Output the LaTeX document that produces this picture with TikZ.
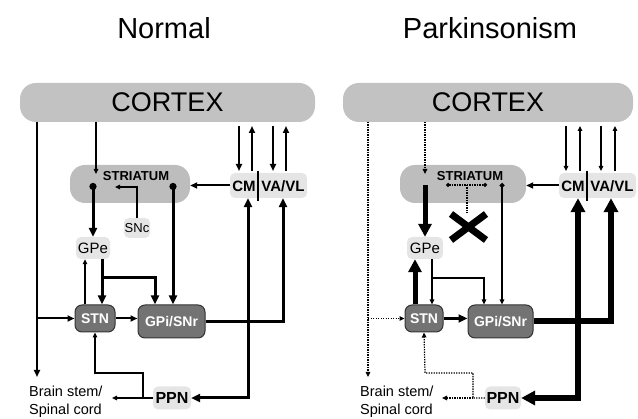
\documentclass[tikz,border=0pt]{standalone}
\usepackage{fontspec}
\setmainfont{Liberation Sans}
\usetikzlibrary{arrows.meta}
\begin{document}
\begin{tikzpicture}[x=1pt,y=-1pt,
  ttl/.style={font=\fontsize{29}{31}\selectfont},
  ctx/.style={fill=black!24, rounded corners=16pt, minimum width=295pt, minimum height=39pt, inner sep=0pt, font=\fontsize{27}{29}\selectfont},
  strbox/.style={fill=black!26, rounded corners=15pt, minimum width=120pt, minimum height=38pt, inner sep=0pt},
  strtxt/.style={font=\fontsize{13}{14}\bfseries\selectfont, inner sep=0pt},
  lightbox/.style={fill=black!10, rounded corners=5pt, inner sep=0pt},
  darkbox/.style={fill=black!55, draw=black!80, line width=1pt, rounded corners=7pt, inner sep=0pt, text=white, font=\fontsize{14}{15}\bfseries\selectfont},
  thtxt/.style={font=\fontsize{15}{16}\bfseries\selectfont, inner sep=0pt},
  bstxt/.style={font=\fontsize{14.5}{18}\selectfont, align=left, inner sep=0pt, anchor=west},
  w1/.style={line width=1.2pt},
  w2/.style={line width=2pt},
  w3/.style={line width=3pt},
  w5/.style={line width=5pt},
  w6/.style={line width=6pt},
  dots/.style={dash pattern=on 1.3pt off 1.2pt},
  t1/.style={-{Triangle[length=5pt,width=4.5pt]}},
  t2/.style={-{Triangle[length=7pt,width=6pt]}},
  t3/.style={-{Triangle[length=9pt,width=8pt]}},
  t5/.style={-{Triangle[length=13pt,width=13pt]}},
  t6/.style={-{Triangle[length=14pt,width=14pt]}},
  dt1/.style={{Circle[length=5pt]}-{Triangle[length=5pt,width=4.5pt]}},
  dt3/.style={{Circle[length=7pt]}-{Triangle[length=9pt,width=8pt]}}
]
\useasboundingbox (0,0) rectangle (638,419);

%%%%%%%%%%%%%%%% LEFT PANEL: Normal
\node[ttl] (Ltitle) at (164,28) {Normal};
\node[ctx] (Lctx) at (167.5,102.5) {CORTEX};
\node[strbox] (Lstr) at (130,184) {};
\node[strtxt] (Lstrt) at (136,176) {STRIATUM};
\node[lightbox, minimum width=77pt, minimum height=25pt] (Lth) at (268.5,185.5) {};
\node[thtxt] (Lcm) at (244,186) {CM};
\node[thtxt] (Lva) at (283,186) {VA/VL};
\coordinate (Ldv1) at (258,171); \coordinate (Ldv2) at (258,201);
\draw[w2] (Ldv1) -- (Ldv2);
\node[lightbox, minimum width=26pt, minimum height=20pt, font=\fontsize{13}{14}\selectfont] (Lsnc) at (137,228) {SNc};
\node[lightbox, minimum width=34pt, minimum height=22pt, font=\fontsize{15}{16}\selectfont] (Lgpe) at (93,248) {GPe};
\node[darkbox, minimum width=40pt, minimum height=27pt] (Lstn) at (95,318.5) {STN};
\node[darkbox, minimum width=67pt, minimum height=33pt] (Lgpi) at (171.5,321.5) {GPi/SNr};
\node[lightbox, minimum width=38pt, minimum height=23pt, font=\fontsize{16}{17}\bfseries\selectfont] (Lppn) at (172,398) {PPN};
\node[bstxt] (Lbs) at (29,402) {Brain stem/\\Spinal cord};

% cortex -> brain stem, branch to STN
\coordinate (La1) at (37,122); \coordinate (La2) at (37,377); \coordinate (La3) at (37,318.5);
\draw[w2,t2] (La1) -- (La2);
\draw[w2,t2] (La3) -- (Lstn.west);
% cortex -> striatum
\coordinate (Lb1) at (96,122); \coordinate (Lb2) at (96,174);
\draw[w1,t1] (Lb1) -- (Lb2);
% cortex <-> thalamus
\coordinate (Lk1) at (239,126); \coordinate (Lk2) at (239,171);
\coordinate (Lk3) at (252,126); \coordinate (Lk4) at (252,171);
\coordinate (Lk5) at (273,126); \coordinate (Lk6) at (273,171);
\coordinate (Lk7) at (286,126); \coordinate (Lk8) at (286,171);
\draw[w2,t2] (Lk1) -- (Lk2);
\draw[w2,t2] (Lk4) -- (Lk3);
\draw[w2,t2] (Lk5) -- (Lk6);
\draw[w2,t2] (Lk8) -- (Lk7);
% CM -> striatum
\draw[w2,t2] (Lth.west) -- (Lth.west -| Lstr.east);
% SNc -> striatum
\coordinate (Ls2) at (115,187);
\draw[w1,t1] (Lsnc.north) |- (Ls2);
% striatum -> GPe, GPi
\coordinate (Ld1) at (93,183); \coordinate (Ld2) at (173,183);
\draw[w3,dt3] (Ld1) -- (Lgpe.north);
\draw[w3,dt3] (Ld2) -- (Ld2 |- Lgpi.north);
% GPe -> STN and GPi
\coordinate (Le1) at (102,278); \coordinate (Le3) at (155,278);
\draw[w3,t3] (Lgpe.south -| Le1) -- (Le1 |- Lstn.north);
\draw[w3,t3] (Le1) -- (Le3) -- (Le3 |- Lgpi.north);
% STN -> GPe
\coordinate (Lf1) at (85,300);
\draw[w1,t1] (Lf1 |- Lstn.north) -- (Lf1 |- Lgpe.south);
% STN -> GPi
\draw[w2,t2] (Lstn.east) -- (Lstn.east -| Lgpi.west);
% GPi -> thalamus, PPN
\coordinate (Lg1) at (283,322); \coordinate (Lg2) at (248,322); \coordinate (Lg3) at (248,398);
\draw[w3,t3] (Lgpi.east) -- (Lgpi.east -| Lg1) -- (Lg1 |- Lth.south);
\draw[w3,t3] (Lg2) -- (Lg2 |- Lth.south);
\draw[w3,t3] (Lg2) -- (Lg3) -- (Lppn.east);
% PPN -> STN, brain stem
\coordinate (Lh1) at (143,398); \coordinate (Lh2) at (143,373); \coordinate (Lh3) at (95,373); \coordinate (Lh4) at (112,398);
\draw[w1,t1] (Lppn.west) -- (Lh1) -- (Lh2) -- (Lh3) -- (Lstn.south);
\draw[w1,t1] (Lh1) -- (Lh4);

%%%%%%%%%%%%%%%% RIGHT PANEL: Parkinsonism
\begin{scope}[shift={(330,0)}]
\node[ttl] (Rtitle) at (160,28) {Parkinsonism};
\node[ctx, minimum width=290pt] (Rctx) at (158,102.5) {CORTEX};
\node[strbox, minimum width=126pt] (Rstr) at (133,184) {};
\node[strtxt] (Rstrt) at (140,176) {STRIATUM};
\node[lightbox, minimum width=77pt, minimum height=25pt] (Rth) at (267.5,185.5) {};
\node[thtxt] (Rcm) at (243,186) {CM};
\node[thtxt] (Rva) at (282,186) {VA/VL};
\coordinate (Rdv1) at (257,171); \coordinate (Rdv2) at (257,201);
\draw[w2] (Rdv1) -- (Rdv2);
\node[lightbox, minimum width=36pt, minimum height=22pt, font=\fontsize{15}{16}\selectfont] (Rgpe) at (95,248) {GPe};
\node[darkbox, minimum width=38pt, minimum height=27pt] (Rstn) at (94,318.5) {STN};
\node[darkbox, minimum width=65pt, minimum height=33pt] (Rgpi) at (170.5,321.5) {GPi/SNr};
\node[lightbox, minimum width=36pt, minimum height=23pt, font=\fontsize{16}{17}\bfseries\selectfont] (Rppn) at (173,398) {PPN};
\node[bstxt] (Rbs) at (30,402) {Brain stem/\\Spinal cord};

% cortex -> brain stem, branch to STN (weak)
\coordinate (Ra1) at (38,122); \coordinate (Ra2) at (38,377); \coordinate (Ra3) at (38,318.5);
\draw[w1,dots,t1] (Ra1) -- (Ra2);
\draw[w1,dots,t1] (Ra3) -- (Rstn.west);
% cortex -> striatum
\coordinate (Rb1) at (95,122); \coordinate (Rb2) at (95,174);
\draw[w1,dots,t1] (Rb1) -- (Rb2);
% cortex <-> thalamus (weak)
\coordinate (Rk1) at (236,126); \coordinate (Rk2) at (236,171);
\coordinate (Rk3) at (250,126); \coordinate (Rk4) at (250,171);
\coordinate (Rk5) at (271,126); \coordinate (Rk6) at (271,171);
\coordinate (Rk7) at (285,126); \coordinate (Rk8) at (285,171);
\draw[w1,t1] (Rk1) -- (Rk2);
\draw[w1,t1] (Rk4) -- (Rk3);
\draw[w1,t1] (Rk5) -- (Rk6);
\draw[w1,t1] (Rk8) -- (Rk7);
% CM -> striatum
\draw[w2,t2] (Rth.west) -- (Rth.west -| Rstr.east);
% lost dopamine input
\coordinate (Rx1) at (116,185); \coordinate (Rx2) at (157,185);
\coordinate (Rx3) at (137,185); \coordinate (Rx4) at (137,213);
\draw[w1,dots,{Circle[length=4pt]}-{Circle[length=4pt]}] (Rx1) -- (Rx2);
\draw[w1,dots] (Rx3) -- (Rx4);
\coordinate (Rxa) at (121,214); \coordinate (Rxb) at (156,240);
\coordinate (Rxc) at (121,240); \coordinate (Rxd) at (156,214);
\draw[line width=7pt] (Rxa) -- (Rxb);
\draw[line width=7pt] (Rxc) -- (Rxd);
% striatum -> GPe (strong), GPi (weak)
\coordinate (Rd1) at (95,185); \coordinate (Rd2) at (172,183);
\draw[w5,t5] (Rd1) -- (Rgpe.north);
\draw[w1,dt1] (Rd2) -- (Rd2 |- Rgpi.north);
% GPe -> STN and GPi (weak)
\coordinate (Re1) at (102,278); \coordinate (Re3) at (154,278);
\draw[w1,t1] (Rgpe.south -| Re1) -- (Re1 |- Rstn.north);
\draw[w1,t1] (Re1) -- (Re3) -- (Re3 |- Rgpi.north);
% STN -> GPe (strong)
\coordinate (Rf1) at (85,300);
\draw[w5,t5] (Rf1 |- Rstn.north) -- (Rf1 |- Rgpe.south);
% STN -> GPi
\draw[line width=2.5pt,t3] (Rstn.east) -- (Rstn.east -| Rgpi.west);
% GPi -> thalamus, PPN (strong)
\coordinate (Rg1) at (281,322); \coordinate (Rg2) at (248,322); \coordinate (Rg3) at (248,398);
\draw[w6,t6] (Rgpi.east) -- (Rgpi.east -| Rg1) -- (Rg1 |- Rth.south);
\draw[w6,t6] (Rg2) -- (Rg2 |- Rth.south);
\draw[w6,t6] (Rg2) -- (Rg3) -- (Rppn.east);
% PPN -> STN, brain stem (weak)
\coordinate (Rh1) at (143,398); \coordinate (Rh2) at (143,373); \coordinate (Rh3) at (95,373); \coordinate (Rh4) at (112,398);
\draw[w1,dots,t1] (Rppn.west) -- (Rh1) -- (Rh2) -- (Rh3) -- (Rstn.south);
\draw[w1,dots,t1] (Rh1) -- (Rh4);
\end{scope}
\end{tikzpicture}
\end{document}
